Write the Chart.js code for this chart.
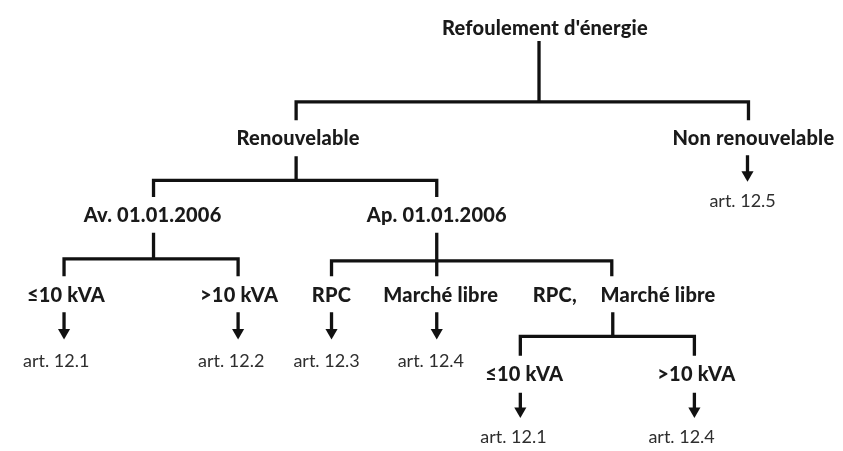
<!DOCTYPE html>
<html>
<head>
<meta charset="utf-8">
<script src="https://cdn.jsdelivr.net/npm/chart.js@4.4.1/dist/chart.umd.min.js"></script>
<style>
    body { margin: 0; background: #fff; }
    #tree_chart { display: block; }
</style>
</head>
<body>
<canvas id="tree_chart" width="843" height="451"></canvas>
<script>
// node labels and where they sit in the diagram space (0..843 x 0..451, y downwards, y = text baseline)
const nodeLabels = ["Refoulement d'énergie", "Renouvelable", "Non renouvelable", "art. 12.5",
    "Av. 01.01.2006", "Ap. 01.01.2006", "≤10 kVA", ">10 kVA", "RPC", "Marché libre", "RPC,", "Marché libre",
    "art. 12.1", "art. 12.2", "art. 12.3", "art. 12.4", "≤10 kVA", ">10 kVA", "art. 12.1", "art. 12.4"];
const nodeX = [547, 296, 759, 748, 148, 437, 60, 236, 330, 441, 557, 662, 50, 228, 325, 431, 526, 701, 515, 686];
const nodeY = [29, 142, 142, 206, 222, 222, 304, 304, 304, 304, 304, 304, 372, 372, 372, 372, 386, 386, 450, 450];
const nodeBold = [1, 1, 1, 0, 1, 1, 1, 1, 1, 1, 1, 1, 0, 0, 0, 0, 1, 1, 0, 0];

// brackets: parent stem x, stem top, bar y, drop bottom, children x
const bracketStemX = [541, 294, 149, 437, 616];
const bracketTop = [35, 154, 233, 233, 315];
const bracketBar = [98, 179, 260, 262, 340];
const bracketBottom = [117, 196, 278, 278, 360];
const bracketChildren = [[294, 754], [149, 437], [58, 235], [330, 437, 615], [522, 699]];

// arrows: x, from, tip
const arrowX = [753, 58, 235, 330, 437, 522, 699];
const arrowFrom = [153, 315, 315, 315, 315, 398, 398];
const arrowTip = [180, 343, 343, 343, 343, 424, 424];

const lineColor = '#111111';
const headRadius = 7;

function buildDatasets() {
    let datasets = [];
    let lineStyle = {
        showLine: true, borderColor: lineColor, borderWidth: 3.3, pointRadius: 0,
        borderCapStyle: 'butt', borderJoinStyle: 'miter', clip: false
    };
    for (let i = 0; i < bracketStemX.length; i++) {
        let kids = bracketChildren[i];
        let first = kids[0], last = kids[kids.length - 1];
        datasets.push(Object.assign({
            data: [{x: bracketStemX[i], y: bracketTop[i]}, {x: bracketStemX[i], y: bracketBar[i]}]
        }, lineStyle));
        datasets.push(Object.assign({
            data: [{x: first, y: bracketBottom[i]}, {x: first, y: bracketBar[i]},
                {x: last, y: bracketBar[i]}, {x: last, y: bracketBottom[i]}]
        }, lineStyle));
        for (let k = 1; k < kids.length - 1; k++) {
            datasets.push(Object.assign({
                data: [{x: kids[k], y: bracketBar[i]}, {x: kids[k], y: bracketBottom[i]}]
            }, lineStyle));
        }
    }
    for (let i = 0; i < arrowX.length; i++) {
        datasets.push({
            data: [{x: arrowX[i], y: arrowFrom[i]}, {x: arrowX[i], y: arrowTip[i] - headRadius}],
            showLine: true, borderColor: lineColor, borderWidth: 3.3, clip: false,
            pointStyle: 'triangle', rotation: 180,
            pointRadius: [0, headRadius], pointBackgroundColor: lineColor, pointBorderColor: lineColor,
            pointBorderWidth: 0
        });
    }
    return datasets;
}

const nodeLabelPlugin = {
    id: 'nodeLabels',
    afterDatasetsDraw(chart) {
        const ctx = chart.ctx;
        const xScale = chart.scales.x, yScale = chart.scales.y;
        ctx.save();
        ctx.textAlign = 'center';
        ctx.textBaseline = 'alphabetic';
        for (let i = 0; i < nodeLabels.length; i++) {
            ctx.font = nodeBold[i] ? '900 20px Lato' : '18px Lato';
            ctx.letterSpacing = nodeBold[i] ? '0.2px' : '0px';
            ctx.fillStyle = nodeBold[i] ? '#1a1a1a' : '#2e2e2e';
            ctx.fillText(nodeLabels[i], xScale.getPixelForValue(nodeX[i]), yScale.getPixelForValue(nodeY[i]));
        }
        ctx.restore();
    }
};

const treeElement = document.getElementById('tree_chart').getContext('2d');
const treeChart = new Chart(treeElement, {
    type: 'scatter',
    data: {datasets: buildDatasets()},
    options: {
        responsive: false, animation: false, events: [],
        layout: {padding: 0},
        scales: {
            x: {type: 'linear', min: 0, max: 843, display: false},
            y: {type: 'linear', min: 0, max: 451, reverse: true, display: false}
        },
        plugins: {legend: {display: false}, tooltip: {enabled: false}}
    },
    plugins: [nodeLabelPlugin]
});
</script>
</body>
</html>
